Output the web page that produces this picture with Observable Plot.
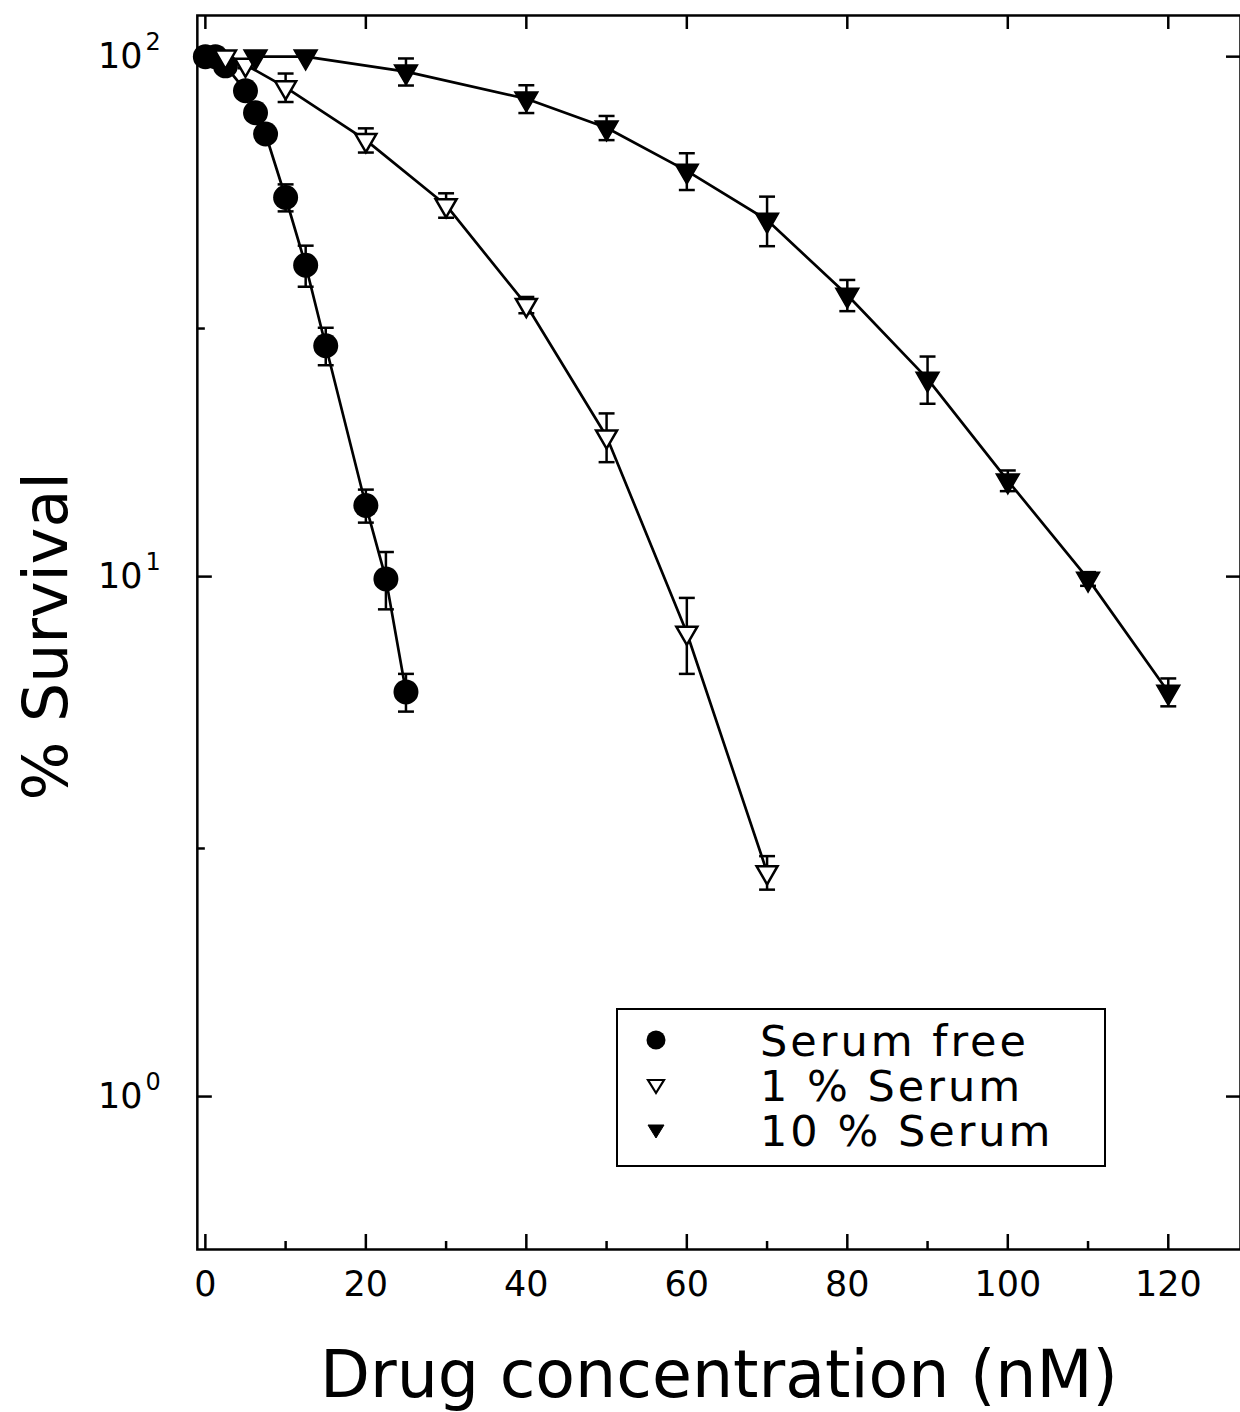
<!DOCTYPE html>
<html>
<head>
<meta charset="utf-8">
<script src="https://cdn.jsdelivr.net/npm/d3@7"></script>
<script src="https://cdn.jsdelivr.net/npm/@observablehq/plot@0.6"></script>
<style>
  html, body { margin: 0; padding: 0; background: #fff; overflow: hidden; }
  #wrap { position: relative; width: 1240px; height: 1412px; overflow: hidden; }
  #legend { position: absolute; left: 616px; top: 1008px; width: 490px; height: 159px;
    box-sizing: border-box; border: 2.5px solid #000; background: #fff;
    font-family: "DejaVu Sans", sans-serif; font-size: 43px; letter-spacing: 3px; color: #000; }
  .row { position: absolute; left: 0; width: 100%; height: 44px; }
  .row svg { position: absolute; left: 26px; top: 8px; }
  .row span { position: absolute; left: 142px; top: 50%; transform: translateY(-52%); white-space: pre; line-height: 1; }
</style>
</head>
<body>
<div id="wrap"><div id="chart"></div><div id="legend"></div></div>
<script>
// ---- data ----
const seriesNames = ["Serum free", "1 % Serum", "10 % Serum"];

const xFree = [0, 1.25, 2.5, 5, 6.25, 7.5, 10, 12.5, 15, 20, 22.5, 25];
const yFree = [100, 100, 96, 86, 78, 71, 53.6, 39.7, 27.8, 13.7, 9.9, 6.0];
const eFree = [1.5, 1.5, 2, 2.5, 2.5, 2.5, 3.2, 3.6, 2.3, 1.0, 1.25, 0.5];

const xOne = [2.5, 5, 10, 20, 30, 40, 50, 60, 70];
const yOne = [100, 96.5, 87.3, 69.1, 51.8, 33.3, 18.6, 7.8, 2.7];
const eOne = [1, 1.5, 5.5, 3.7, 2.8, 1.2, 2.0, 1.3, 0.2];

const xTen = [6.25, 12.5, 25, 40, 50, 60, 70, 80, 90, 100, 110, 120];
const yTen = [100, 100, 93.6, 83.0, 73.0, 60.3, 48.5, 34.8, 24.0, 15.3, 9.9, 6.0];
const eTen = [0, 0, 5.6, 5.1, 3.9, 4.9, 5.3, 2.4, 2.5, 0.7, 0.3, 0.37];

const xMajor = [0, 20, 40, 60, 80, 100, 120];
const xMinor = [10, 30, 50, 70, 90, 110];
const yMajor = [1, 10, 100];
const yMinor = [3, 30];
const xTitle = "Drug concentration (nM)";
const yTitle = "% Survival";

// ---- layout ----
const W = 1241, H = 1412, mL = 197, mT = 15, mB = 162, mR = 0;
const innerW = W - mL - mR, innerH = H - mT - mB;
const FONT = "'DejaVu Sans', sans-serif";

const rows = (xs, ys, es, s) => xs.map((x, i) => ({x, y: ys[i], e: es[i], s}));
const free = rows(xFree, yFree, eFree, seriesNames[0]);
const one = rows(xOne, yOne, eOne, seriesNames[1]);
const ten = rows(xTen, yTen, eTen, seriesNames[2]);
const all = [...free, ...one, ...ten];
const withErr = all.filter(d => d.e > 0);

const capSym = {draw(c, size) { const w = Math.sqrt(size) / 2; c.moveTo(-w, 0); c.lineTo(w, 0); }};
const downTri = {draw(c, size) {
  const y = Math.sqrt(size / (Math.sqrt(3) * 3));
  c.moveTo(0, 2 * y); c.lineTo(-Math.sqrt(3) * y, -y); c.lineTo(Math.sqrt(3) * y, -y); c.closePath();
}};

const chart = Plot.plot({
  width: W, height: H,
  marginLeft: mL, marginTop: mT, marginBottom: mB, marginRight: mR,
  style: {fontFamily: FONT, background: "white", overflow: "visible"},
  x: {type: "linear", domain: [-1, 129], axis: null},
  y: {type: "log", domain: [0.508, 120], axis: null},
  marks: [
    // connecting lines
    Plot.line(all, {x: "x", y: "y", z: "s", stroke: "black", strokeWidth: 2.7}),
    // error bars
    Plot.ruleX(withErr, {x: "x", y1: d => d.y - d.e, y2: d => d.y + d.e, stroke: "black", strokeWidth: 2.5}),
    Plot.dot(withErr, {x: "x", y: d => d.y + d.e, symbol: capSym, r: 9, stroke: "black", strokeWidth: 2.5, fill: "none"}),
    Plot.dot(withErr, {x: "x", y: d => d.y - d.e, symbol: capSym, r: 9, stroke: "black", strokeWidth: 2.5, fill: "none"}),
    // markers
    Plot.dot(free, {x: "x", y: "y", r: 12.5, fill: "black", stroke: "none"}),
    Plot.dot(one, {x: "x", y: "y", symbol: downTri, r: 7.8, fill: "white", stroke: "black", strokeWidth: 2.5}),
    Plot.dot(ten, {x: "x", y: "y", symbol: downTri, r: 8.6, fill: "black", stroke: "black", strokeWidth: 1.5}),
    // frame
    Plot.frame({stroke: "black", strokeWidth: 2.5}),
    // inward ticks
    Plot.tickX(xMajor, {x: d => d, insetTop: innerH - 15, stroke: "black", strokeWidth: 2.5}),
    Plot.tickX(xMinor, {x: d => d, insetTop: innerH - 8, stroke: "black", strokeWidth: 2.5}),
    Plot.tickX(xMajor, {x: d => d, insetBottom: innerH - 14, stroke: "black", strokeWidth: 2.5}),
    Plot.tickY(yMajor, {y: d => d, insetRight: innerW - 15, stroke: "black", strokeWidth: 2.5}),
    Plot.tickY(yMinor, {y: d => d, insetRight: innerW - 8, stroke: "black", strokeWidth: 2.5}),
    Plot.tickY(yMajor, {y: d => d, insetLeft: innerW - 14, stroke: "black", strokeWidth: 2.5}),
    // tick labels
    Plot.text(xMajor, {x: d => d, frameAnchor: "bottom", dy: 35, text: d => String(d), fontSize: 35, fontFamily: FONT, fill: "black", lineAnchor: "middle", textAnchor: "middle"}),
    Plot.text(yMajor, {y: d => d, frameAnchor: "left", dx: -55, textAnchor: "end", text: () => "10", fontSize: 35, fontFamily: FONT, fill: "black", lineAnchor: "middle"}),
    Plot.text(yMajor, {y: d => d, frameAnchor: "left", dx: -52, dy: -14, textAnchor: "start", text: d => String(Math.round(Math.log10(d))), fontSize: 24, fontFamily: FONT, fill: "black", lineAnchor: "middle"}),
    // axis titles
    Plot.text([xTitle], {frameAnchor: "bottom", dy: 127, text: d => d, fontSize: 65, fontFamily: FONT, fill: "black", lineAnchor: "middle", textAnchor: "middle", letterSpacing: 0.5}),
    Plot.text([yTitle], {frameAnchor: "left", dx: -150, dy: 4, rotate: -90, text: d => d, fontSize: 62, fontFamily: FONT, fill: "black", lineAnchor: "middle", textAnchor: "middle"})
  ]
});
document.getElementById("chart").appendChild(chart);

// ---- legend ----
const legend = document.getElementById("legend");
const legendSyms = [
  '<circle cx="12" cy="12" r="9.5" fill="black"/>',
  '<path d="M4,7 L20,7 L12,20 Z" fill="white" stroke="black" stroke-width="2.2"/>',
  '<path d="M4,7 L20,7 L12,20 Z" fill="black" stroke="black" stroke-width="1"/>'
];
const rowTops = [10, 55, 100];
seriesNames.forEach((name, i) => {
  const row = document.createElement("div");
  row.className = "row";
  row.style.top = rowTops[i] + "px";
  row.innerHTML = `<svg width="24" height="24" viewBox="0 0 24 24">${legendSyms[i]}</svg><span>${name}</span>`;
  legend.appendChild(row);
});
</script>
</body>
</html>
